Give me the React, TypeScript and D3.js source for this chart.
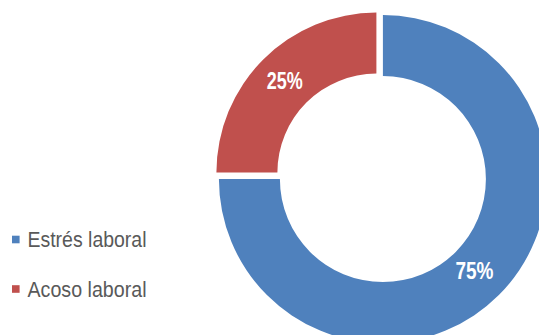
import React from "react";
import * as d3 from "d3";

const categories = ["Estrés laboral", "Acoso laboral"];
const values = [75, 25];
const colors = ["#4F81BD", "#C0504D"];

const W = 539;
const H = 335;

export default function App() {
  const pie = d3
    .pie<number>()
    .sort(null)
    .value((d) => d)
    .startAngle(0)
    .endAngle(2 * Math.PI);
  const arcs = pie(values);

  const base = { x: 379.65, y: 175.85 };
  const explode = 4.6;
  const outerR = [164, 160];
  const innerR = [103, 99];
  const labelArc = d3.arc<any>().innerRadius(129.5).outerRadius(129.5);
  const total = d3.sum(values);
  const labelWidths = [38, 36];

  const legendRows = d3.scaleLinear().domain([0, 1]).range([239.5, 289]);

  return (
    <svg
      width={W}
      height={H}
      style={{ position: "absolute", left: 0, top: 0, background: "#fff" }}
      fontFamily="'Liberation Sans Narrow', 'Arial Narrow', 'Liberation Sans', Arial, sans-serif"
    >
      {arcs.map((a, i) => {
        const mid = (a.startAngle + a.endAngle) / 2;
        const cx = base.x + explode * Math.sin(mid);
        const cy = base.y - explode * Math.cos(mid);
        const arcGen = d3.arc<any>().innerRadius(innerR[i]).outerRadius(outerR[i]);
        const [lx, ly] = labelArc.centroid(a);
        return (
          <g key={i} transform={`translate(${cx},${cy})`}>
            <path d={arcGen(a) || ""} fill={colors[i]} />
            <text
              x={lx}
              y={ly + 8.3}
              textAnchor="middle"
              fill="#fff"
              fontWeight="bold"
              fontSize={23}
              textLength={labelWidths[i]}
              lengthAdjust="spacingAndGlyphs"
            >
              {`${Math.round((values[i] / total) * 100)}%`}
            </text>
          </g>
        );
      })}
      {categories.map((c, i) => (
        <g key={c} transform={`translate(0,${legendRows(i)})`}>
          <rect x={12} y={-3.8} width={7.6} height={7.6} fill={colors[i]} />
          <text
            x={27.5}
            y={7.7}
            fontSize={22}
            fill="#595959"
            textLength={119}
            lengthAdjust="spacingAndGlyphs"
          >
            {c}
          </text>
        </g>
      ))}
    </svg>
  );
}
